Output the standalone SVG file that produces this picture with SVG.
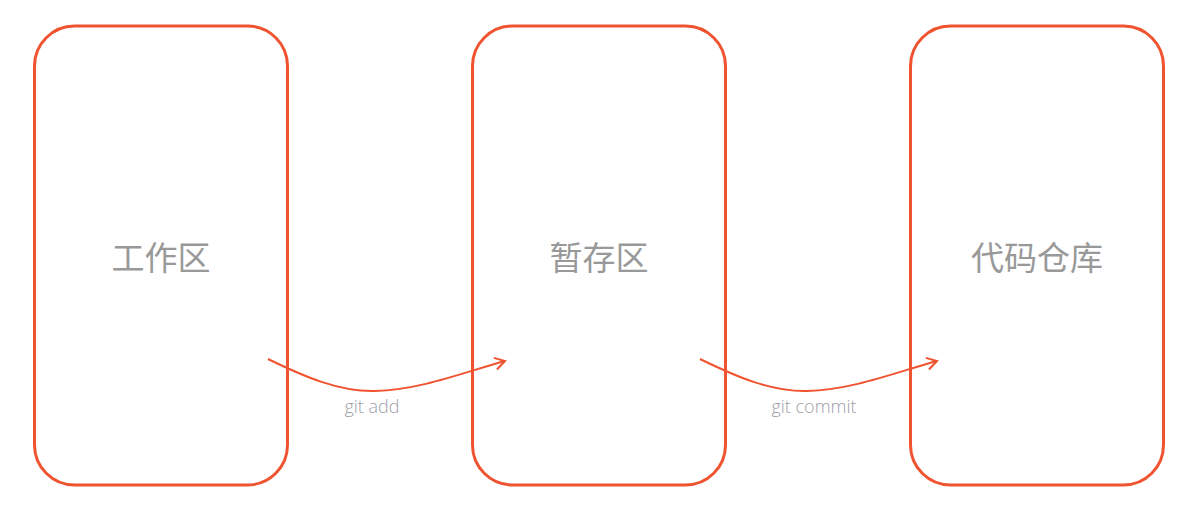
<svg xmlns="http://www.w3.org/2000/svg" width="1191" height="507" viewBox="0 0 1191 507">
<style>
.box{fill:#fff;stroke:#f05330;stroke-width:3}
.title{font-family:"Noto Sans CJK SC",sans-serif;font-size:33px;fill:#999;text-anchor:middle;font-weight:400}
.lbl{font-family:"Open Sans","Noto Sans",sans-serif;font-size:18px;fill:#a0a0a8;text-anchor:middle;font-weight:300}
.edge{fill:none;stroke:#f05330;stroke-width:2}
</style>
<defs>
<marker id="arr" markerWidth="14" markerHeight="14" refX="12" refY="7" orient="auto" markerUnits="userSpaceOnUse">
<path d="M2,1 L12,7 L2,13" fill="none" stroke="#f05330" stroke-width="2"/>
</marker>
</defs>
<rect width="1191" height="507" fill="#fff"/>
<g id="node-work">
<rect class="box" x="34.5" y="26" width="253" height="459" rx="40"/>
<text class="title" x="161" y="270">工作区</text>
</g>
<g id="node-stage">
<rect class="box" x="472.5" y="26" width="253" height="459" rx="40"/>
<text class="title" x="599" y="270">暂存区</text>
</g>
<g id="node-repo">
<rect class="box" x="910.5" y="26" width="253" height="459" rx="40"/>
<text class="title" x="1037" y="270">代码仓库</text>
</g>
<g id="connectors">
<path class="edge" d="M268,359 C305,377 340,392 375,391 C420,390 465,372 505,361" marker-end="url(#arr)"/>
<text class="lbl" x="372" y="413">git add</text>
<path class="edge" d="M700,359 C737,377 772,392 807,391 C852,390 897,372 937,361" marker-end="url(#arr)"/>
<text class="lbl" x="814" y="413">git commit</text>
</g>
</svg>
